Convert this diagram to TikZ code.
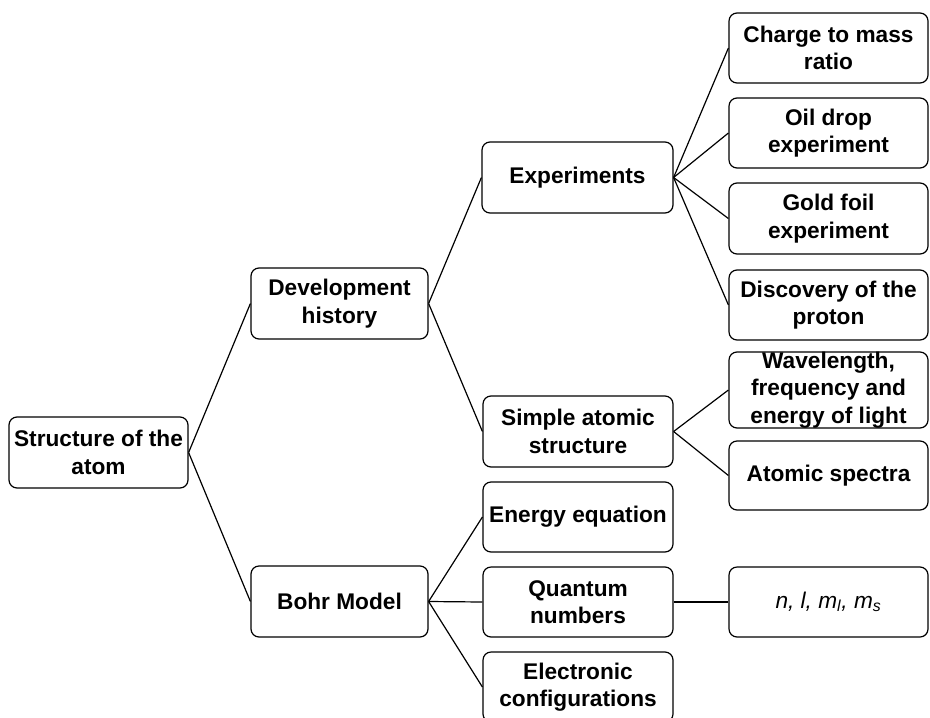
\documentclass[tikz,border=0pt]{standalone}
\usepackage{fontspec}
\setmainfont{Liberation Sans}
\begin{document}
\begin{tikzpicture}[x=0.75pt,y=-0.75pt,
  box/.style={draw, rounded corners=6pt, line width=0.9pt, inner sep=0pt, align=center,
    font=\bfseries\fontsize{17}{20.5}\selectfont},
  wd/.style={minimum width=#1*0.75pt},
  ht/.style={minimum height=#1*0.75pt},
  link/.style={line width=0.9pt}]
\useasboundingbox (0,0) rectangle (930,717);
% level 0
\node[box,wd=179,ht=71] (root) at (98.5,452.5) {Structure of the\\atom};
% level 1
\node[box,wd=177,ht=71] (dev) at (339.5,303.5) {Development\\history};
\node[box,wd=177,ht=71] (bohr) at (339.5,601.5) {Bohr Model};
% level 2
\node[box,wd=191,ht=71] (exp) at (577.5,177.5) {Experiments};
\node[box,wd=190,ht=71] (simple) at (578,431.5) {Simple atomic\\structure};
\node[box,wd=190,ht=70] (energy) at (578,517) {Energy equation};
\node[box,wd=190,ht=70] (quantum) at (578,602) {Quantum\\numbers};
\node[box,wd=190,ht=70] (elec) at (578,687) {Electronic\\configurations};
% level 3
\node[box,wd=199,ht=70] (charge) at (828.5,48) {Charge to mass\\ratio};
\node[box,wd=199,ht=70] (oil) at (828.5,133) {Oil drop\\experiment};
\node[box,wd=199,ht=71] (gold) at (828.5,218.5) {Gold foil\\experiment};
\node[box,wd=199,ht=70] (disc) at (828.5,305) {Discovery of the\\proton};
\node[box,wd=199,ht=76] (wave) at (828.5,390) {Wavelength,\\frequency and\\energy of light};
\node[box,wd=199,ht=69] (spectra) at (828.5,475.5) {Atomic spectra};
\node[box,wd=199,ht=70,font=\mdseries\itshape\fontsize{17}{20.5}\selectfont] (nlm) at (828.5,602)
  {n, l, m\textsubscript{l}, m\textsubscript{s}};
% connectors
\draw[link] (root.east) -- (dev.west);
\draw[link] (root.east) -- (bohr.west);
\draw[link] (dev.east) -- (exp.west);
\draw[link] (dev.east) -- (simple.west);
\draw[link] (exp.east) -- (charge.west);
\draw[link] (exp.east) -- (oil.west);
\draw[link] (exp.east) -- (gold.west);
\draw[link] (exp.east) -- (disc.west);
\draw[link] (simple.east) -- (wave.west);
\draw[link] (simple.east) -- (spectra.west);
\draw[link] (bohr.east) -- (energy.west);
\draw[link] (bohr.east) -- (quantum.west);
\draw[link] (bohr.east) -- (elec.west);
\draw[link] (quantum.east) -- (nlm.west);
\end{tikzpicture}
\end{document}
